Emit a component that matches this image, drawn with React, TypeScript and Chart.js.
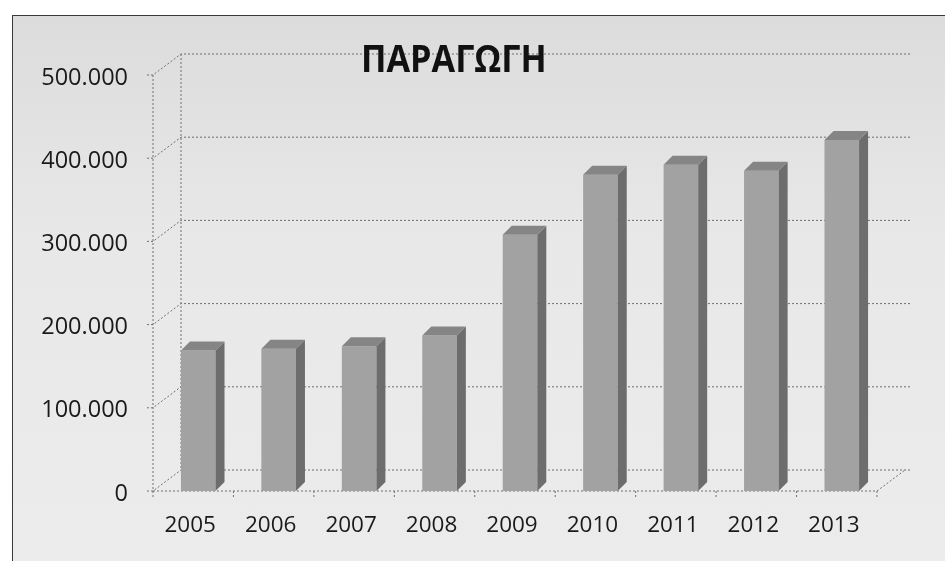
import React, { useEffect, useRef } from 'react';
import { Chart, registerables } from 'chart.js';

Chart.register(...registerables);

const years = ['2005', '2006', '2007', '2008', '2009', '2010', '2011', '2012', '2013'];
const production = [169000, 171000, 174000, 187000, 308000, 380000, 392000, 385000, 422000];
const yMin = 0;
const yMax = 500000;
const yStep = 100000;
const titleText = 'ΠΑΡΑΓΩΓΗ';

const fmt = (v: number) => (v === 0 ? '0' : String(v).replace(/\B(?=(\d{3})+(?!\d))/g, '.'));

const DX = 28;
const DY = 21;
const BAR_D = 9;

const depthPlugin = {
  id: 'depth3d',
  beforeDatasetsDraw(chart: any) {
    const { ctx, chartArea } = chart;
    const y = chart.scales.y;
    const x0 = chartArea.left - 5;
    const xr = chartArea.right - 5;
    const yb = y.getPixelForValue(0);
    ctx.save();
    ctx.strokeStyle = '#6f6f6f';
    ctx.lineWidth = 1;
    ctx.setLineDash([2, 2]);
    y.ticks.forEach((t: any) => {
      const py = y.getPixelForValue(t.value);
      ctx.beginPath();
      ctx.moveTo(x0 - 6, py);
      ctx.lineTo(x0, py);
      ctx.lineTo(x0 + DX, py - DY);
      ctx.lineTo(xr + DX + 5, py - DY);
      ctx.stroke();
    });
    ctx.beginPath();
    ctx.moveTo(x0, y.getPixelForValue(yMax));
    ctx.lineTo(x0, yb);
    ctx.lineTo(xr, yb);
    ctx.lineTo(xr + DX, yb - DY);
    ctx.stroke();
    ctx.beginPath();
    ctx.moveTo(x0 + DX, y.getPixelForValue(yMax) - DY);
    ctx.lineTo(x0 + DX, yb - DY);
    ctx.stroke();
    const n = years.length;
    for (let i = 0; i <= n; i++) {
      const px = x0 + (i * (xr - x0)) / n;
      ctx.beginPath();
      ctx.moveTo(px, yb);
      ctx.lineTo(px, yb + 6);
      ctx.stroke();
    }
    ctx.restore();
  },
  afterDatasetsDraw(chart: any) {
    const { ctx } = chart;
    const meta = chart.getDatasetMeta(0);
    ctx.save();
    meta.data.forEach((el: any) => {
      const { x, y, base, width } = el.getProps(['x', 'y', 'base', 'width'], true);
      const l = x - width / 2;
      const r = x + width / 2;
      ctx.fillStyle = '#6d6d6d';
      ctx.beginPath();
      ctx.moveTo(r, y);
      ctx.lineTo(r + BAR_D, y - BAR_D);
      ctx.lineTo(r + BAR_D, base - BAR_D);
      ctx.lineTo(r, base);
      ctx.closePath();
      ctx.fill();
      ctx.fillStyle = '#858585';
      ctx.beginPath();
      ctx.moveTo(l, y);
      ctx.lineTo(l + BAR_D, y - BAR_D);
      ctx.lineTo(r + BAR_D, y - BAR_D);
      ctx.lineTo(r, y);
      ctx.closePath();
      ctx.fill();
    });
    ctx.restore();
  },
};

export default function App() {
  const ref = useRef<HTMLCanvasElement>(null);

  useEffect(() => {
    if (!ref.current) return;
    const chart = new Chart(ref.current, {
      type: 'bar',
      data: {
        labels: years,
        datasets: [
          {
            label: titleText,
            data: production,
            backgroundColor: '#a2a2a2',
            borderWidth: 0,
            barPercentage: 0.43,
            categoryPercentage: 1,
          },
        ],
      },
      options: {
        responsive: false,
        animation: false,
        devicePixelRatio: 1,
        layout: { padding: { top: 75, right: 63, left: 0, bottom: 0 } },
        plugins: {
          legend: { display: false },
          title: { display: false },
          tooltip: { enabled: false },
        },
        scales: {
          x: {
            grid: { display: false, drawTicks: false },
            border: { display: false },
            ticks: {
              color: '#1a1a1a',
              font: { family: '"Open Sans"', size: 22.5 },
              padding: 21,
              labelOffset: -8,
              maxRotation: 0,
            },
            afterFit: (s: any) => {
              s.height = 70;
            },
          },
          y: {
            min: yMin,
            max: yMax,
            grid: { display: false, drawTicks: false },
            border: { display: false },
            ticks: {
              stepSize: yStep,
              color: '#1a1a1a',
              font: { family: '"Open Sans"', size: 23.5 },
              padding: 30,
              labelOffset: 3,
              callback: (v: any) => fmt(Number(v)),
            },
            afterFit: (s: any) => {
              s.width = 158;
            },
          },
        },
      },
      plugins: [depthPlugin],
    });
    return () => chart.destroy();
  }, []);

  return (
    <div style={{ position: 'absolute', left: 0, top: 0, width: 945, height: 561, overflow: 'hidden', background: '#ffffff' }}>
      <div
        style={{
          position: 'absolute',
          left: 12,
          top: 15,
          width: 940,
          height: 560,
          borderLeft: '1.5px solid #3a3a3a',
          borderTop: '1.5px solid #3a3a3a',
          background: 'linear-gradient(#dcdcdc, #e8e8e8 40%, #ececec)',
        }}
      />
      <canvas ref={ref} width={945} height={561} style={{ position: 'absolute', left: 0, top: 0 }} />
      <div
        style={{
          position: 'absolute',
          left: 361,
          top: 38,
          fontFamily: '"Open Sans"',
          fontWeight: 700,
          fontSize: 38,
          color: '#111',
          lineHeight: 1,
          whiteSpace: 'nowrap',
          transform: 'scaleX(0.9)',
          transformOrigin: 'left top',
        }}
      >
        {titleText}
      </div>
    </div>
  );
}
